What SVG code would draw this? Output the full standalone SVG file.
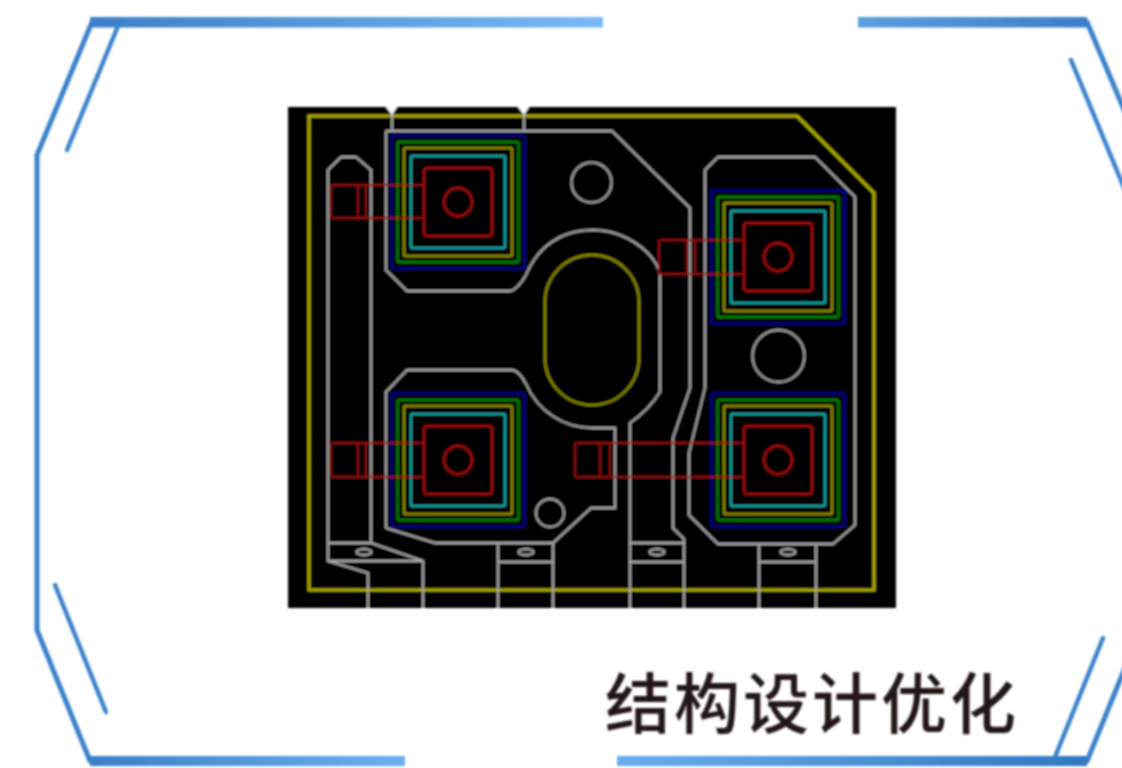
<svg xmlns="http://www.w3.org/2000/svg" xmlns:xlink="http://www.w3.org/1999/xlink" width="1122" height="768" viewBox="0 0 1122 768">
<style>
.fr{fill:none;stroke:#3b82cc;stroke-width:5;stroke-linecap:round;stroke-linejoin:miter}
.in{fill:none;stroke:#3b82cc;stroke-width:4.5;stroke-linecap:round}
.g{fill:none;stroke:#ababab;stroke-width:1.900;stroke-linejoin:miter}
.y{fill:none;stroke:#b0b000;stroke-width:3}
.s{fill:none;stroke:#8c8c00;stroke-width:2.300}
.r{fill:none;stroke:#a00808;stroke-width:2.300}
.rt{fill:none;stroke:#8c0c0c;stroke-width:1.900}
text{font-family:"Noto Sans CJK SC","Liberation Sans",sans-serif;fill:#231815}
</style>
<defs>
<linearGradient id="gTL" gradientUnits="userSpaceOnUse" x1="90" y1="0" x2="603" y2="0"><stop offset="0" stop-color="#3a80c8"/><stop offset="1" stop-color="#7ab9f5"/></linearGradient>
<linearGradient id="gBL" gradientUnits="userSpaceOnUse" x1="90" y1="0" x2="405" y2="0"><stop offset="0" stop-color="#3a80c8"/><stop offset="1" stop-color="#6cb0f0"/></linearGradient>
<linearGradient id="gTR" gradientUnits="userSpaceOnUse" x1="858" y1="0" x2="1087" y2="0"><stop offset="0" stop-color="#5a9fe0"/><stop offset="1" stop-color="#3a7fc8"/></linearGradient>
<linearGradient id="gBR" gradientUnits="userSpaceOnUse" x1="617" y1="0" x2="1087" y2="0"><stop offset="0" stop-color="#68adf0"/><stop offset="1" stop-color="#3078c0"/></linearGradient>
<filter id="soft" x="-5%" y="-5%" width="110%" height="110%"><feGaussianBlur stdDeviation="0.8"/></filter>
<g id="chip">
<rect x="-66.500" y="-66.500" width="133" height="133" rx="1.500" fill="none" stroke="#000088" stroke-width="2.600"/>
<rect x="-60.500" y="-60" width="121" height="120" rx="1.500" fill="none" stroke="#008400" stroke-width="2.300"/>
<rect x="-54" y="-54" width="108" height="108" rx="1.500" fill="none" stroke="#8c8c00" stroke-width="2.300"/>
<rect x="-47" y="-46" width="94" height="92" rx="1.500" fill="none" stroke="#14a4a4" stroke-width="2.300"/>
<rect x="-34" y="-34" width="68" height="68" rx="3" class="r"/>
<circle cx="0" cy="0" r="14" class="r"/>
</g>
</defs>
<rect width="1122" height="768" fill="#fff"/>
<g id="frame" filter="url(#soft)">
<path class="fr" d="M92 22L37 155V630L90 761"/>
<path class="in" d="M118 26L67 150"/>
<path class="in" d="M55 585L106 712"/>
<path class="fr" d="M1087 22L1125 112"/>
<path class="in" d="M1071 60L1125 190"/>
<path class="in" d="M1103 638L1055 757"/>
<path class="fr" d="M1087 761L1125 668"/>
<rect x="90" y="17" width="513" height="10.500" fill="url(#gTL)"/>
<rect x="858" y="17" width="229" height="10.500" fill="url(#gTR)"/>
<rect x="90" y="756" width="315" height="10" fill="url(#gBL)"/>
<rect x="617" y="756" width="470" height="10" fill="url(#gBR)"/>
</g>
<g id="board" filter="url(#soft)">
<rect x="288" y="107" width="608" height="501" fill="#000"/>
<path class="y" d="M309 116H797L874 193V590H309Z"/>
<rect class="s" x="545" y="255" width="94" height="150" rx="47" ry="47"/>
<g id="outlines">
<path class="g" d="M392 108V131M524 108V131"/>
<path class="g" d="M386 131H612L690 208V388L673 438V528L684 539V608"/>
<path class="g" d="M386 131V270L407 291H511C518 288 522 282 526 275C538 246 562 230 592 230C630 230 660 258 660 277V392C650 408 640 416 630 423V608"/>
<path class="g" d="M386 528V392L407 370H513C519 372 523 378 526 384C538 412 565 428 592 428H615V508H591L553 543V608M386 528L435 543H553M498 543V608M498 562H553"/>
<path class="g" d="M368 608V573L328 561V170L341 157H356L371 170V543L423 561V608M328 543H371M328 561H423"/>
<path class="g" d="M705 170L718 157H815L855 197V525L833 544H718L689 515V453L705 388V170ZM759 544V608M816 544V608M759 562H816M630 543H684M630 562H684"/>
<circle class="g" cx="591.500" cy="182.500" r="20"/>
<circle class="g" cx="778.500" cy="356" r="26"/>
<circle class="g" cx="550" cy="513" r="14"/>
<g class="g">
<ellipse cx="364" cy="552" rx="7.500" ry="3"/>
<ellipse cx="526" cy="552" rx="7.500" ry="3"/>
<ellipse cx="657" cy="552" rx="7.500" ry="3"/>
<ellipse cx="788" cy="552" rx="7.500" ry="3"/>
</g>
</g>
<g id="chips">
<use xlink:href="#chip" href="#chip" x="458" y="202"/>
<use xlink:href="#chip" href="#chip" x="778" y="257"/>
<use xlink:href="#chip" href="#chip" x="458" y="460"/>
<use xlink:href="#chip" href="#chip" x="778" y="460"/>
</g>
<g id="leads">
<path class="rt" d="M424 185H333Q331 185 331 187V216Q331 218 333 218H424M358 185V218M366 185V218"/>
<path class="rt" d="M424 443H333Q331 443 331 445V475Q331 477 333 477H424M358 443V477M366 443V477"/>
<path class="rt" d="M744 240H661Q659 240 659 242V272Q659 274 661 274H744M687 240V274M695 240V274"/>
<path class="rt" d="M744 443H577Q575 443 575 445V475Q575 477 577 477H744M600 443V477M610 443V477"/>
</g>
<path d="M386 107H397L392 115Z M518 107H529L524 115Z" fill="#fff"/>
</g>
<text id="caption" x="605" y="728" font-size="66" letter-spacing="3" font-weight="500" filter="url(#soft)">结构设计优化</text>
</svg>
